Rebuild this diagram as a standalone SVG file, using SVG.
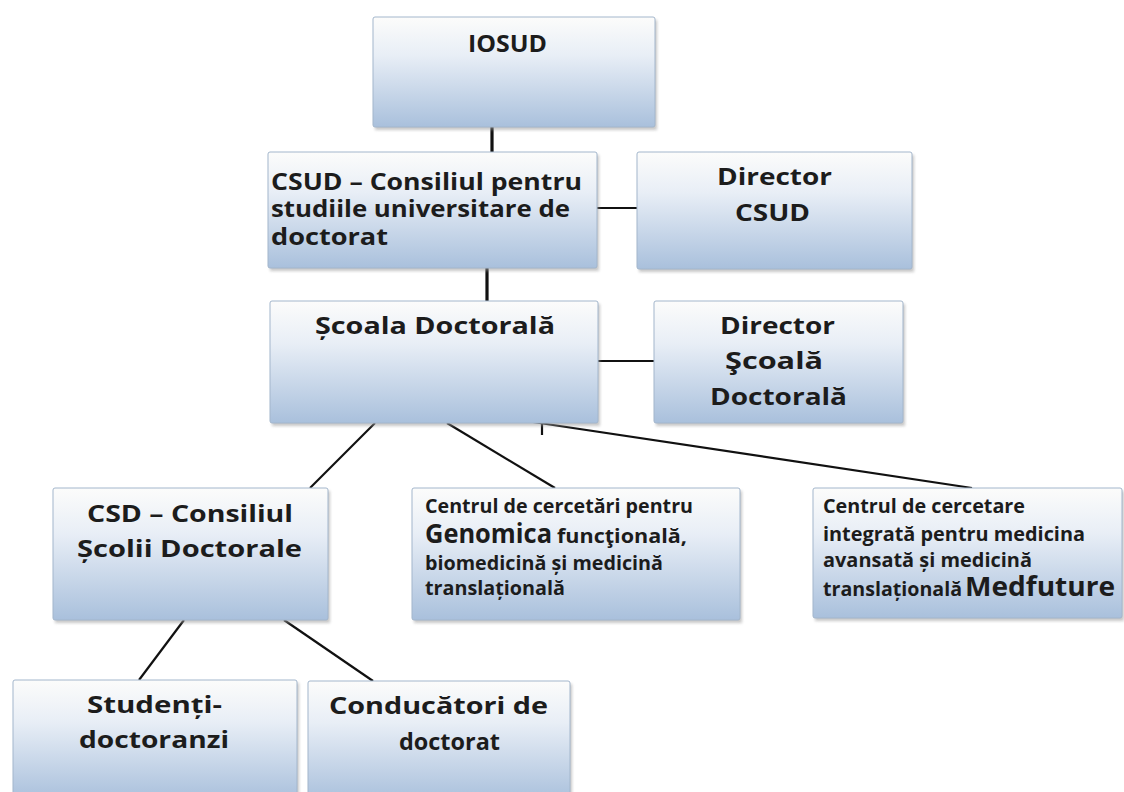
<svg xmlns="http://www.w3.org/2000/svg" width="1124" height="792" viewBox="0 0 1124 792">
<defs>
<linearGradient id="boxGrad" x1="0" y1="0" x2="0" y2="1">
<stop offset="0" stop-color="#fcfcfb"/>
<stop offset="0.35" stop-color="#e8eef6"/>
<stop offset="1" stop-color="#a9c0dc"/>
</linearGradient>
<filter id="shadow" x="-5%" y="-5%" width="112%" height="120%">
<feGaussianBlur stdDeviation="1.5"/>
</filter>
<style>
.shd { fill: #9a9a9a; opacity: 0.55; filter: url(#shadow); }
.box { fill: url(#boxGrad); stroke: #a3b6cc; stroke-width: 1; }
.t { font-family: "Open Sans", "Liberation Sans", sans-serif; font-weight: bold; fill: #1c1c1c; font-size: 24px; }
.s { font-size: 19px; }
.b { font-size: 26px; }
.conn { stroke: #111; stroke-width: 2.2; fill: none; }
.v { stroke-width: 3.2; }
</style>
</defs>
<rect width="1124" height="792" fill="#ffffff"/>

<g id="connectors">
<line class="conn v" x1="492" y1="127" x2="492" y2="152"/>
<line class="conn" x1="597" y1="208" x2="637" y2="208" stroke-width="2.6"/>
<line class="conn v" x1="487" y1="268" x2="487" y2="301"/>
<line class="conn" x1="598" y1="361" x2="654" y2="361"/>
<line class="conn" x1="375" y1="423" x2="310" y2="488"/>
<line class="conn" x1="447" y1="423" x2="555" y2="488"/>
<line class="conn" x1="533" y1="422" x2="972" y2="488"/>
<line class="conn" x1="542" y1="418" x2="542" y2="435" stroke-width="1.6"/>
<line class="conn" x1="184" y1="620" x2="139" y2="680"/>
<line class="conn" x1="284" y1="620" x2="373" y2="681"/>
</g>

<g id="iosud">
<rect class="shd" x="375" y="20" width="282" height="110"/>
<rect class="box" x="373" y="17" width="282" height="110" rx="2"/>
<text class="t" x="468" y="52" textLength="79" lengthAdjust="spacingAndGlyphs">IOSUD</text>
</g>

<g id="csud">
<rect class="shd" x="270" y="155" width="329" height="116"/>
<rect class="box" x="268" y="152" width="329" height="116" rx="2"/>
<text class="t" x="271" y="190" textLength="311" lengthAdjust="spacingAndGlyphs">CSUD – Consiliul pentru</text>
<text class="t" x="271" y="217" textLength="299" lengthAdjust="spacingAndGlyphs">studiile universitare de</text>
<text class="t" x="271" y="245" textLength="117" lengthAdjust="spacingAndGlyphs">doctorat</text>
</g>

<g id="director-csud">
<rect class="shd" x="639" y="155" width="275" height="117"/>
<rect class="box" x="637" y="152" width="275" height="117" rx="2"/>
<text class="t" x="717" y="185" textLength="115" lengthAdjust="spacingAndGlyphs">Director</text>
<text class="t" x="735" y="221" textLength="75" lengthAdjust="spacingAndGlyphs">CSUD</text>
</g>

<g id="scoala-doctorala">
<rect class="shd" x="272" y="304" width="328" height="122"/>
<rect class="box" x="270" y="301" width="328" height="122" rx="2"/>
<text class="t" x="315" y="334" textLength="240" lengthAdjust="spacingAndGlyphs">Școala Doctorală</text>
</g>

<g id="director-scoala">
<rect class="shd" x="656" y="304" width="249" height="122"/>
<rect class="box" x="654" y="301" width="249" height="122" rx="2"/>
<text class="t" x="720" y="334" textLength="115" lengthAdjust="spacingAndGlyphs">Director</text>
<text class="t" x="725" y="369" textLength="98" lengthAdjust="spacingAndGlyphs">Şcoală</text>
<text class="t" x="710" y="405" textLength="137" lengthAdjust="spacingAndGlyphs">Doctorală</text>
</g>

<g id="csd">
<rect class="shd" x="55" y="491" width="275" height="132"/>
<rect class="box" x="53" y="488" width="275" height="132" rx="2"/>
<text class="t" x="87" y="522" textLength="206" lengthAdjust="spacingAndGlyphs">CSD – Consiliul</text>
<text class="t" x="77" y="557" textLength="225" lengthAdjust="spacingAndGlyphs">Școlii Doctorale</text>
</g>

<g id="centru-genomica">
<rect class="shd" x="414" y="491" width="328" height="132"/>
<rect class="box" x="412" y="488" width="328" height="132" rx="2"/>
<text class="t s" x="425" y="513" textLength="268" lengthAdjust="spacingAndGlyphs">Centrul de cercetări pentru</text>
<text class="t b" x="425" y="543" textLength="127" lengthAdjust="spacingAndGlyphs">Genomica</text>
<text class="t s" x="557" y="543" textLength="130" lengthAdjust="spacingAndGlyphs">funcţională,</text>
<text class="t s" x="425" y="570" textLength="238" lengthAdjust="spacingAndGlyphs">biomedicină și medicină</text>
<text class="t s" x="425" y="595" textLength="140" lengthAdjust="spacingAndGlyphs">translațională</text>
</g>

<g id="centru-medfuture">
<rect class="shd" x="815" y="491" width="309" height="130"/>
<rect class="box" x="813" y="488" width="309" height="130" rx="2"/>
<text class="t s" x="823" y="513" textLength="202" lengthAdjust="spacingAndGlyphs">Centrul de cercetare</text>
<text class="t s" x="823" y="541" textLength="262" lengthAdjust="spacingAndGlyphs">integrată pentru medicina</text>
<text class="t s" x="823" y="567" textLength="209" lengthAdjust="spacingAndGlyphs">avansată și medicină</text>
<text class="t s" x="823" y="596" textLength="139" lengthAdjust="spacingAndGlyphs">translațională</text>
<text class="t b" x="965" y="596" textLength="150" lengthAdjust="spacingAndGlyphs">Medfuture</text>
</g>

<g id="studenti-doctoranzi">
<rect class="shd" x="15" y="683" width="284" height="120"/>
<rect class="box" x="13" y="680" width="284" height="120" rx="2"/>
<text class="t" x="87" y="713" textLength="135" lengthAdjust="spacingAndGlyphs">Studenți-</text>
<text class="t" x="79" y="748" textLength="150" lengthAdjust="spacingAndGlyphs">doctoranzi</text>
</g>

<g id="conducatori-doctorat">
<rect class="shd" x="310" y="684" width="262" height="120"/>
<rect class="box" x="308" y="681" width="262" height="120" rx="2"/>
<text class="t" x="329" y="714" textLength="219" lengthAdjust="spacingAndGlyphs">Conducători de</text>
<text class="t" x="399" y="750" textLength="101" lengthAdjust="spacingAndGlyphs">doctorat</text>
</g>
</svg>
